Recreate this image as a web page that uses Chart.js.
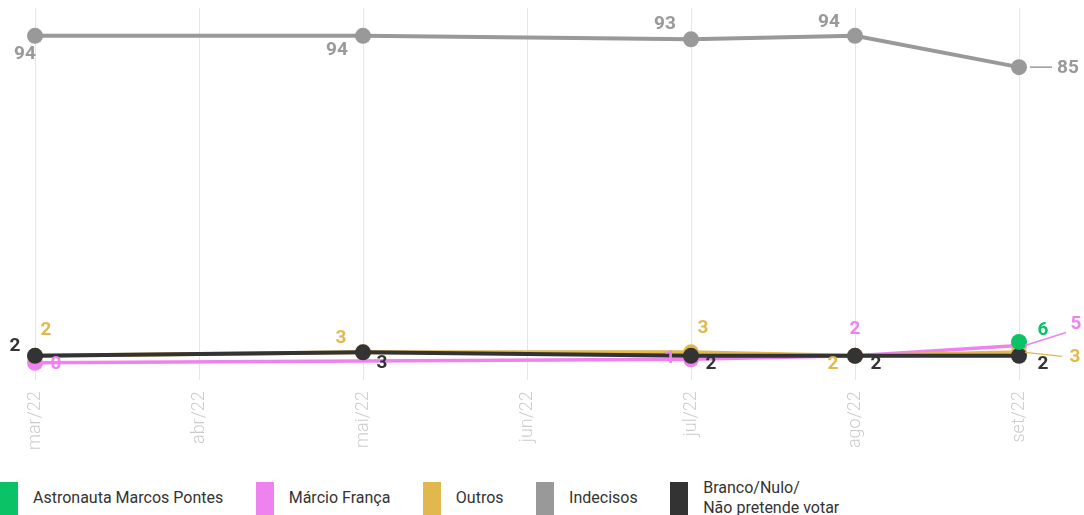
<!DOCTYPE html>
<html>
<head>
<meta charset="utf-8">
<script src="https://cdn.jsdelivr.net/npm/chart.js@4"></script>
<style>
  html, body { margin: 0; padding: 0; background: #fff; }
  body { width: 1084px; height: 515px; overflow: hidden; font-family: Roboto, sans-serif; }
  #wrap { position: relative; width: 1084px; height: 461px; }
  #legend { position: absolute; left: 0; top: 478px; display: flex; align-items: center; }
  .item { display: flex; align-items: center; margin-right: 32.5px; }
  .box { width: 18px; height: 33px; margin-right: 15px; }
  .txt { font-size: 16px; color: #333; line-height: 20px; }
</style>
</head>
<body>
<div id="wrap"><canvas id="chart"></canvas></div>
<div id="legend"></div>
<script>
const months = ["mar/22", "abr/22", "mai/22", "jun/22", "jul/22", "ago/22", "set/22"];

const pontes = [null, null, null, null, null, null, 6];
const franca = [0, null, null, null, 1, 2, 5];
const outros = [2, null, 3, null, 3, 2, 3];
const indecisos = [94, null, 94, null, 93, 94, 85];
const branco = [2, null, 3, null, 2, 2, 2];

const names = ["Astronauta Marcos Pontes", "Márcio França", "Outros", "Indecisos", "Branco/Nulo/\nNão pretende votar"];
const colors = ["#0bc266", "#ee82ee", "#e1b84e", "#999999", "#333333"];

// label offsets per point: [dx, dy, leaderFromDx, leaderToDx, leaderToDy]
const labelPos = [
  [null, null, null, null, null, null, [24, -12]],
  [[21, 1], null, null, null, [-21, -1], [0, -27], [57, -21, 6, 47, -13]],
  [[11, -26], null, [-22, -14], null, [12, -24], [-22, 8], [56, 5, 6, 43, 4]],
  [[-10, 18], null, [-26, 14], null, [-26, -15], [-26, -14], [49, 1, 11, 33, 0]],
  [[-20, -10], null, [19, 11], null, [20, 8], [21, 8], [24, 8]],
];

const drawOrder = [0, 3, 2, 4, 1];
const widths = [4, 3.5, 4, 4, 4];
const series = [pontes, franca, outros, indecisos, branco];

const valueLabels = {
  id: "valueLabels",
  afterDatasetsDraw(chart) {
    const ctx = chart.ctx;
    ctx.save();
    ctx.font = "bold 19px Roboto";
    ctx.textAlign = "center";
    ctx.textBaseline = "middle";
    chart.data.datasets.forEach((ds, i) => {
      const meta = chart.getDatasetMeta(i);
      meta.data.forEach((pt, j) => {
        const v = ds.data[j];
        const pos = labelPos[i][j];
        if (v === null || !pos) return;
        if (pos.length > 2) {
          ctx.strokeStyle = colors[i];
          ctx.lineWidth = 1.5;
          ctx.beginPath();
          ctx.moveTo(pt.x + pos[2], pt.y);
          ctx.lineTo(pt.x + pos[3], pt.y + pos[4]);
          ctx.stroke();
        }
        ctx.fillStyle = colors[i];
        ctx.fillText(String(v), pt.x + pos[0], pt.y + pos[1]);
      });
    });
    ctx.restore();
  },
};

new Chart(document.getElementById("chart"), {
  type: "line",
  data: {
    labels: months,
    datasets: series.map((d, i) => ({
      label: names[i],
      data: d,
      borderColor: colors[i],
      backgroundColor: colors[i],
      borderWidth: widths[i],
      pointRadius: 8,
      pointHoverRadius: 8,
      pointBorderWidth: 0,
      spanGaps: true,
      order: drawOrder[i],
    })),
  },
  options: {
    responsive: true,
    maintainAspectRatio: false,
    animation: false,
    layout: { padding: { top: 5, left: 35, right: 65, bottom: 0 } },
    plugins: { legend: { display: false }, tooltip: { enabled: false } },
    scales: {
      x: {
        offset: false,
        border: { display: false },
        grid: { color: "#e6e6e6", lineWidth: 1, drawTicks: false },
        ticks: {
          minRotation: 90,
          maxRotation: 90,
          padding: 11,
          color: "#cccccc",
          font: { family: "Roboto", size: 18, weight: "300" },
        },
      },
      y: { display: false, min: -5, max: 102 },
    },
  },
  plugins: [valueLabels],
});

const legend = document.getElementById("legend");
names.forEach((n, i) => {
  const item = document.createElement("div");
  item.className = "item";
  const box = document.createElement("div");
  box.className = "box";
  box.style.background = colors[i];
  const txt = document.createElement("div");
  txt.className = "txt";
  txt.innerHTML = n.replace("\n", "<br>");
  item.appendChild(box);
  item.appendChild(txt);
  legend.appendChild(item);
});
</script>
</body>
</html>
